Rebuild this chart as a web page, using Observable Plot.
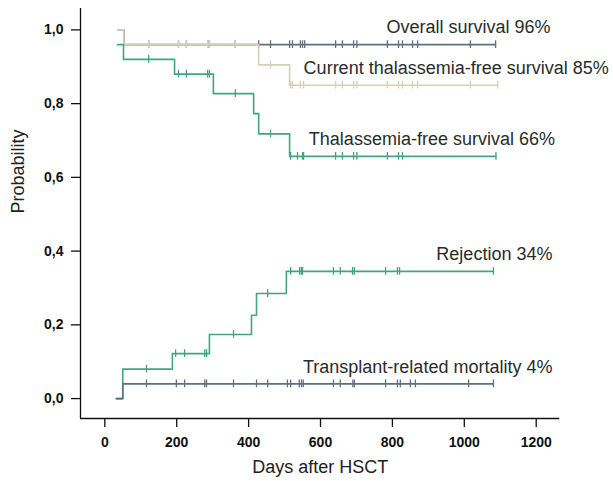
<!DOCTYPE html>
<html>
<head>
<meta charset="utf-8">
<script src="https://cdn.jsdelivr.net/npm/d3@7"></script>
<script src="https://cdn.jsdelivr.net/npm/@observablehq/plot@0.6"></script>
<style>
  html, body { margin: 0; padding: 0; background: #ffffff; }
  #chart svg { display: block; }
</style>
</head>
<body>
<div id="chart"></div>
<script>
// ---- Data (Kaplan–Meier / cumulative incidence steps) ----
// Overall survival
const osTimes = [37, 53, 1087];
const osProb  = [1.0, 0.96, 0.96];
const osCens  = [122, 205, 227, 286, 291, 363, 428, 461, 514, 522, 544, 550, 556, 642, 661, 692, 701, 786, 817, 828, 856, 870, 1017, 1087];

// Current thalassemia-free survival
const ctfsTimes = [37, 53, 428, 514, 1093];
const ctfsProb  = [1.0, 0.96, 0.905, 0.85, 0.85];
const ctfsCens  = [122, 205, 227, 286, 291, 363, 461, 517, 522, 544, 553, 642, 661, 692, 701, 786, 817, 828, 856, 870, 1017, 1093];

// Thalassemia-free survival
const tfsTimes = [35, 52, 194, 302, 414, 428, 514, 1088];
const tfsProb  = [0.96, 0.92, 0.88, 0.827, 0.773, 0.718, 0.657, 0.657];
const tfsCens  = [122, 205, 227, 286, 291, 363, 461, 517, 536, 550, 553, 642, 661, 692, 701, 786, 817, 828, 1088];

// Rejection (cumulative incidence)
const rejTimes = [32, 50, 188, 291, 408, 422, 505, 1081];
const rejProb  = [0, 0.08, 0.122, 0.174, 0.226, 0.285, 0.345, 0.345];
const rejCens  = [116, 197, 222, 278, 283, 358, 453, 517, 542, 547, 550, 636, 655, 689, 694, 781, 814, 820, 1081];

// Transplant-related mortality
const trmTimes = [32, 50, 1081];
const trmProb  = [0, 0.04, 0.04];
const trmCens  = [116, 199, 222, 278, 283, 358, 422, 453, 508, 517, 541, 547, 552, 636, 655, 690, 694, 781, 814, 822, 850, 864, 1012, 1081];

const seriesNames = [
  "Overall survival 96%",
  "Current thalassemia-free survival 85%",
  "Thalassemia-free survival 66%",
  "Rejection 34%",
  "Transplant-related mortality 4%"
];

const xTicks = [0, 200, 400, 600, 800, 1000, 1200];
const yTicks = [0, 0.2, 0.4, 0.6, 0.8, 1.0];
const xLabel = "Days after HSCT";
const yLabel = "Probability";

// ---- Styling ----
const slate = "#5e7084";
const beige = "#d6d0b6";
const green = "#3ea77d";
const xDomain = [-67.6, 1265.6];
const yDomain = [-0.054, 1.058];
const tickHalf = 0.0105;

// Build tables from the arrays
function steps(times, prob) {
  return times.map((t, i) => ({t, p: prob[i]}));
}
function censors(times, prob, cens) {
  return cens.map(c => {
    const i = Math.max(0, d3.bisectRight(times, c) - 1);
    return {t: c, p: prob[i]};
  });
}
const series = [
  {name: seriesNames[0], times: osTimes,   prob: osProb,   cens: osCens,   color: slate, dx: 55},
  {name: seriesNames[1], times: ctfsTimes, prob: ctfsProb, cens: ctfsCens, color: beige, dx: 111},
  {name: seriesNames[2], times: tfsTimes,  prob: tfsProb,  cens: tfsCens,  color: green, dx: 59},
  {name: seriesNames[3], times: rejTimes,  prob: rejProb,  cens: rejCens,  color: green, dx: 59},
  {name: seriesNames[4], times: trmTimes,  prob: trmProb,  cens: trmCens,  color: slate, dx: 59}
];

const marks = [];
for (const s of series) {
  const pts = steps(s.times, s.prob);
  const cs = censors(s.times, s.prob, s.cens);
  marks.push(Plot.line(pts, {x: "t", y: "p", curve: "step-after", stroke: s.color, strokeWidth: 1.6}));
  marks.push(Plot.ruleX(cs, {x: "t", y1: d => d.p - tickHalf, y2: d => d.p + tickHalf, stroke: s.color, strokeWidth: 1.3}));
}
// curve labels, anchored at the end of each curve
for (const s of series) {
  const last = s.times.length - 1;
  marks.push(Plot.text([s.name], {
    x: () => s.times[last], y: () => s.prob[last], text: d => d,
    textAnchor: "end", lineAnchor: "middle", dx: s.dx, dy: -17,
    fontSize: 18, fill: "#2b2b2b"
  }));
}

const chart = Plot.plot({
  width: 613,
  height: 481,
  marginLeft: 80,
  marginRight: 53.7,
  marginTop: 8,
  marginBottom: 63,
  style: {fontFamily: "'Liberation Sans', Arial, sans-serif", fontSize: "14px", background: "#ffffff", color: "#111"},
  x: {domain: xDomain},
  y: {domain: yDomain},
  marks: [
    Plot.ruleX([xDomain[0]], {stroke: "#111", strokeWidth: 1.3}),
    Plot.ruleY([yDomain[0]], {stroke: "#111", strokeWidth: 1.3}),
    Plot.axisX(xTicks, {tickSize: 9, tickPadding: 10, label: null, fontWeight: "bold", fontSize: 14, strokeWidth: 1.3,
      tickFormat: d => String(d)}),
    Plot.axisY(yTicks, {tickSize: 9, tickPadding: 8, label: null, fontWeight: "bold", fontSize: 14, strokeWidth: 1.3,
      tickFormat: d => d.toFixed(1).replace(".", ",")}),
    Plot.text([xLabel], {frameAnchor: "bottom", text: d => d, dy: 54, fontSize: 18, fill: "#222"}),
    Plot.text([yLabel], {frameAnchor: "left", text: d => d, dx: -62.5, rotate: -90, fontSize: 18, fill: "#222"}),
    ...marks
  ]
});
document.getElementById("chart").appendChild(chart);
</script>
</body>
</html>
